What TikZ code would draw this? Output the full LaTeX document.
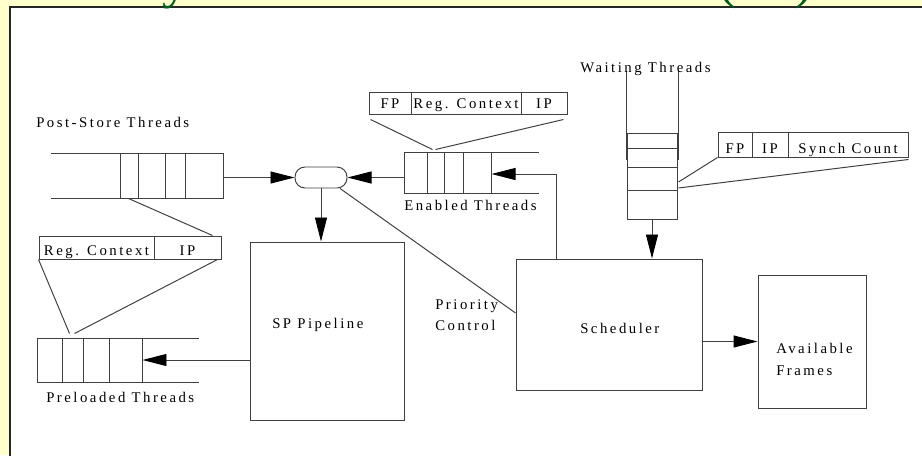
\documentclass[tikz,border=0pt]{standalone}
\usepackage{fontspec}
\setmainfont{Liberation Serif}
\newfontfamily\spaced[LetterSpace=17]{Liberation Serif}
\usetikzlibrary{arrows.meta,fit,calc}

\definecolor{slidebg}{RGB}{255,255,204}
\definecolor{titlegreen}{RGB}{0,90,30}

\tikzset{
  unit/.style={draw=black!75, line width=0.7pt, inner sep=0pt},
  txt/.style={font=\spaced\fontsize{10.5}{12}\selectfont, inner sep=0pt},
  cell/.style={unit, label={[txt, anchor=base, yshift=2.5pt]south:#1}},
  hicell/.style={unit, label={[txt, anchor=base, yshift=4.5pt]south:#1}},
  wire/.style={draw=black!75, line width=0.7pt},
  flow/.style={wire, -{Triangle[length=6mm,width=3mm,color=black]}},
}

\begin{document}
\begin{tikzpicture}[x=0.025cm, y=-0.025cm]
\useasboundingbox (0,0) rectangle (922,455);
\fill[slidebg] (0,0) rectangle (922,455);
% white panel, only top and left edges fall on the page
\fill[white] (10,7) rectangle (930,462);
\draw[black!85, line width=1pt] (10,462) -- (10,7) -- (930,7);
% slide title, mostly above the page
\node[anchor=base west, inner sep=0pt, text=titlegreen, font=\fontsize{38}{40}\selectfont] (title) at (133,-2.5) {Synchronization Processor (SP)};

% post-store queue
\draw[wire] (51,153) -- (154,153) (51,198) -- (154,198);
\node[unit, fit={(120,153) (223,198)}] (post) {};
\foreach \x in {138,165,185} \draw[wire] (\x,153) -- (\x,198);
\node[txt, anchor=base west] (postlbl) at (36,127) {Post-Store Threads};

% join
\node[unit, rounded corners=0.25cm, fit={(295,167) (347,188)}] (join) {};

% enabled queue
\draw[wire] (458,152) -- (539,152) (453,193) -- (539,193);
\node[unit, fit={(404,152) (491,193)}] (enabled) {};
\foreach \x in {427,444,463} \draw[wire] (\x,152) -- (\x,193);
\node[txt, anchor=base west] (enlbl) at (404,210) {Enabled Threads};

% preloaded queue
\draw[wire] (99,338) -- (199,338) (93,382) -- (199,382);
\node[unit, fit={(37,338) (142,382)}] (preload) {};
\foreach \x in {62,83,109} \draw[wire] (\x,338) -- (\x,382);
\node[txt, anchor=base west] (prelbl) at (46,402) {Preloaded Threads};

% waiting stack
\draw[wire] (626,71) -- (626,160) (678,71) -- (678,160);
\node[unit, fit={(627,133) (677,219)}] (wait) {};
\foreach \y in {148,167,190} \draw[wire] (627,\y) -- (677,\y);
\node[txt, anchor=base west] (waitlbl) at (580,72) {Waiting Threads};

% main blocks
\node[unit, fit={(250,242) (404,420)}] (pipe) {};
\node[txt, anchor=base west] (pipelbl) at (272,328) {SP Pipeline};
\node[unit, fit={(516,259) (702,390)}] (sched) {};
\node[txt, anchor=base west] (schedlbl) at (580,333) {Scheduler};
\node[unit, fit={(758,275) (866,408)}] (frames) {};
\node[txt, anchor=base west] (frlbla) at (776,353) {Available};
\node[txt, anchor=base west] (frlblb) at (776,375) {Frames};

% thread contents
\node[cell=Reg. Context, fit={(39,236) (154,259)}] (pregctx) {};
\node[cell=IP, fit={(154,236) (221,259)}] (pip) {};
\node[hicell=FP, fit={(369,92) (411,114)}] (efp) {};
\node[hicell=Reg. Context, fit={(411,92) (521,114)}] (ectx) {};
\node[hicell=IP, fit={(521,92) (567,114)}] (eip) {};
\node[cell=FP, fit={(718,132) (752,157)}] (wfp) {};
\node[cell=IP, fit={(752,132) (788,157)}] (wip) {};
\node[cell=Synch Count, fit={(788,132) (908,157)}] (wsync) {};

% callouts
\draw[wire] ($(post.south west)+(9,0)$) -- ($(pip.north east)+(-9,0)$);
\draw[wire] (pregctx.south west) -- ($(preload.north west)+(33,-4)$);
\draw[wire] ($(pip.south east)+(-4,0)$) -- ($(preload.north west)+(38,-4)$);
\draw[wire] ($(efp.south west)+(2,5)$) -- ($(enabled.north west)+(29,-2)$);
\draw[wire] ($(eip.south east)+(-4,5)$) -- ($(enabled.north west)+(32,-2)$);
\draw[wire] (wfp.south west) -- ($(wait.east)+(1,6)$);
\draw[wire] ($(wsync.south east)+(0,2)$) -- ($(wait.east)+(1,12)$);

% flows
\draw[flow] (post.east |- join.west) -- (join.west);
\draw[flow] (enabled.west |- join.east) -- (join.east);
\draw[flow] (join.south) -- (pipe.north -| join.south);
\coordinate (back) at (556,174);
\draw[flow] (sched.north -| back) -- (back) -- (enabled.east |- back);
\draw[flow] (wait.south) -- (sched.north -| wait.south);
\draw[flow] (pipe.west |- preload.east) -- (preload.east);
\draw[flow] (sched.east |- frames.west) -- (frames.west);

% priority control
\coordinate (prio) at (0,313);
\draw[wire] (join.-30) -- (sched.west |- prio);
\node[txt, anchor=base west] (priolbla) at (435,309) {Priority};
\node[txt, anchor=base west] (priolblb) at (435,330) {Control};
\end{tikzpicture}
\end{document}
